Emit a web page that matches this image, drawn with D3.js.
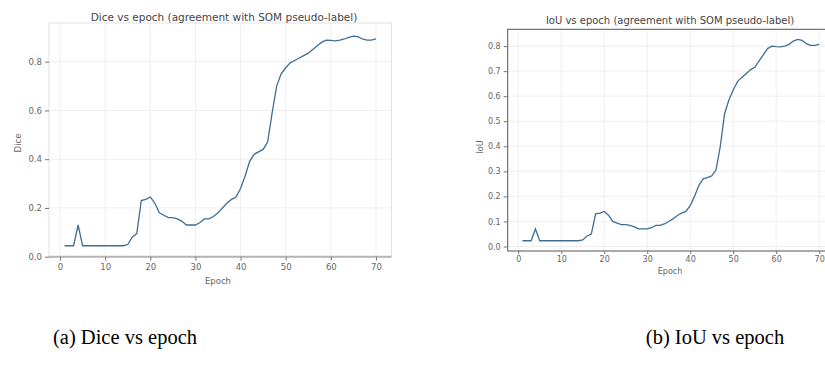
<!DOCTYPE html>
<html><head><meta charset="utf-8">
<script src="https://cdn.jsdelivr.net/npm/d3@7"></script>
<style>body{margin:0;background:#fff}svg{display:block}</style>
</head><body>
<svg id="c" width="825" height="369"></svg>
<script>
const epochs = d3.range(1, 71);
const dice = [0.045,0.045,0.045,0.13,0.045,0.045,0.045,0.045,0.045,0.045,
  0.045,0.045,0.045,0.045,0.05,0.08,0.095,0.23,0.235,0.245,
  0.22,0.18,0.17,0.16,0.16,0.155,0.145,0.13,0.13,0.13,
  0.14,0.155,0.155,0.165,0.18,0.2,0.22,0.235,0.245,0.28,
  0.33,0.39,0.42,0.43,0.44,0.47,0.59,0.70,0.75,0.775,
  0.795,0.805,0.815,0.825,0.835,0.85,0.865,0.88,0.888,0.887,
  0.885,0.888,0.893,0.9,0.905,0.903,0.893,0.888,0.888,0.893];
const iou = [0.023,0.023,0.023,0.07,0.023,0.023,0.023,0.023,0.023,0.023,
  0.023,0.023,0.023,0.023,0.026,0.042,0.05,0.13,0.133,0.14,
  0.125,0.10,0.093,0.087,0.087,0.084,0.078,0.07,0.07,0.07,
  0.075,0.084,0.084,0.09,0.1,0.11,0.124,0.133,0.14,0.163,
  0.2,0.243,0.27,0.275,0.282,0.305,0.40,0.53,0.585,0.625,
  0.658,0.675,0.69,0.705,0.715,0.74,0.765,0.79,0.8,0.798,
  0.797,0.8,0.807,0.82,0.827,0.823,0.81,0.803,0.803,0.807];
const xTicks = [0,10,20,30,40,50,60,70];
const diceTicks = [0.0,0.2,0.4,0.6,0.8];
const iouTicks = [0.0,0.1,0.2,0.3,0.4,0.5,0.6,0.7,0.8];
const titles = ["Dice vs epoch (agreement with SOM pseudo-label)","IoU vs epoch (agreement with SOM pseudo-label)"];
const yLabels = ["Dice","IoU"];
const captions = ["(a) Dice vs epoch","(b) IoU vs epoch"];

const svg = d3.select("#c");
const font = "DejaVu Sans, sans-serif";

function panel(cfg){
  const g = svg.append("g");
  const x = d3.scaleLinear().domain([-2.45,73.45]).range([cfg.left, cfg.right]);
  const y = d3.scaleLinear().domain(cfg.ydom).range([cfg.bottom, cfg.top]);
  const cid = "clip"+cfg.id;
  svg.append("clipPath").attr("id",cid).append("rect")
    .attr("x",cfg.left).attr("y",cfg.top).attr("width",cfg.right-cfg.left).attr("height",cfg.bottom-cfg.top);
  g.append("g").selectAll("line").data(xTicks).join("line")
    .attr("x1",d=>x(d)).attr("x2",d=>x(d)).attr("y1",cfg.top).attr("y2",cfg.bottom)
    .attr("stroke","#ebebeb").attr("stroke-width",0.8);
  g.append("g").selectAll("line").data(cfg.yticks).join("line")
    .attr("x1",cfg.left).attr("x2",cfg.right).attr("y1",d=>y(d)).attr("y2",d=>y(d))
    .attr("stroke","#ebebeb").attr("stroke-width",0.8);
  const line = d3.line().x((d,i)=>x(epochs[i])).y(d=>y(d)).curve(d3.curveLinear);
  g.append("path").datum(cfg.data).attr("d",line).attr("clip-path",`url(#${cid})`)
    .attr("fill","none").attr("stroke","#3e6e96").attr("stroke-width",1.3);
  g.append("rect").attr("x",cfg.left).attr("y",cfg.top).attr("width",cfg.right-cfg.left).attr("height",cfg.bottom-cfg.top)
    .attr("fill","none").attr("stroke",cfg.spine).attr("stroke-width",cfg.spineW);
  if(cfg.bottomSpine){
    g.append("line").attr("x1",cfg.left).attr("x2",cfg.right).attr("y1",cfg.bottom).attr("y2",cfg.bottom)
      .attr("stroke",cfg.bottomSpine).attr("stroke-width",2);
  }
  const xa = d3.axisBottom(x).tickValues(xTicks).tickSize(cfg.tickLen).tickPadding(cfg.xPad).tickFormat(d3.format("d"));
  const xg = g.append("g").attr("transform",`translate(0,${cfg.bottom})`).call(xa);
  xg.select(".domain").remove();
  xg.selectAll("line").attr("stroke","#777");
  xg.selectAll("text").attr("font-family",font).attr("font-size",cfg.tickFs).attr("fill","#666");
  const ya = d3.axisLeft(y).tickValues(cfg.yticks).tickSize(4).tickPadding(3).tickFormat(d3.format(".1f"));
  const yg = g.append("g").attr("transform",`translate(${cfg.left},0)`).call(ya);
  yg.select(".domain").remove();
  yg.selectAll("line").attr("stroke","#777");
  yg.selectAll("text").attr("font-family",font).attr("font-size",cfg.tickFs).attr("fill","#666");
  g.append("text").attr("x",cfg.titleX).attr("y",cfg.titleY).attr("text-anchor","middle")
    .attr("font-family",font).attr("font-size",cfg.titleFs).attr("fill","#444").text(cfg.title);
  g.append("text").attr("x",cfg.xlabX).attr("y",cfg.xlabY).attr("text-anchor","middle")
    .attr("font-family",font).attr("font-size",cfg.tickFs).attr("fill","#666").text("Epoch");
  g.append("text").attr("transform",`translate(${cfg.ylabX},${cfg.ylabY}) rotate(-90)`).attr("text-anchor","middle")
    .attr("font-family",font).attr("font-size",cfg.tickFs).attr("fill","#666").text(cfg.ylabel);
  svg.append("text").attr("x",cfg.capX).attr("y",344).attr("text-anchor","middle")
    .attr("font-family","Liberation Serif, Times New Roman, serif").attr("font-size",20.5).attr("fill","#000").text(cfg.caption);
}

panel({id:0,left:49,right:391.5,top:23,bottom:256.7,ydom:[0,0.9586],yticks:diceTicks,data:dice,
  spine:"#e2e2e2",spineW:1,bottomSpine:"#b5b5b5",tickFs:8.5,titleFs:10.5,title:titles[0],tickLen:4,xPad:3,
  titleX:224,titleY:21,xlabX:218,xlabY:284,ylabX:21,ylabY:143,ylabel:yLabels[0],caption:captions[0],capX:125});
panel({id:1,left:507.7,right:834,top:29.3,bottom:251,ydom:[-0.018,0.867],yticks:iouTicks,data:iou,
  spine:"#555",spineW:1,bottomSpine:null,tickFs:8,titleFs:10,title:titles[1],tickLen:3,xPad:2,
  titleX:670,titleY:23.5,xlabX:670,xlabY:274,ylabX:483,ylabY:147,ylabel:yLabels[1],caption:captions[1],capX:715});
</script>
</body></html>
